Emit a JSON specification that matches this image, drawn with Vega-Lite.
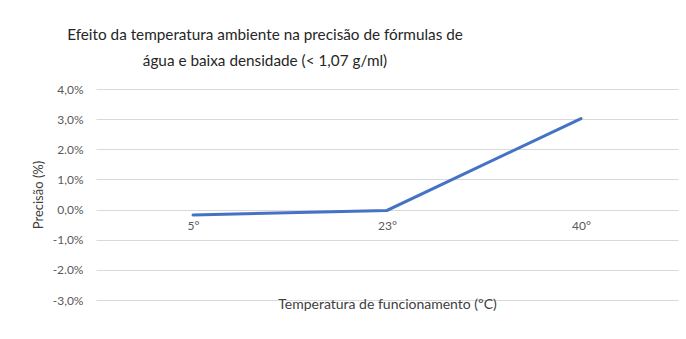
{
  "$schema": "https://vega.github.io/schema/vega-lite/v6.json",
  "width": 582,
  "height": 211,
  "autosize": {"type": "none"},
  "padding": {"left": 96, "top": 89, "right": 8, "bottom": 39},
  "background": "white",
  "title": {
    "text": ["Efeito da temperatura ambiente na precisão de fórmulas de", "água e baixa densidade (< 1,07 g/ml)"],
    "font": "Lato",
    "fontSize": 15.3,
    "fontWeight": "normal",
    "color": "#262626",
    "lineHeight": 26,
    "anchor": "middle",
    "dx": -122,
    "offset": 14
  },
  "data": {
    "values": [
      {"temperatura": "5°", "precisao": -0.18},
      {"temperatura": "23°", "precisao": -0.03},
      {"temperatura": "40°", "precisao": 3.02}
    ]
  },
  "mark": {"type": "line", "color": "#4472C4", "strokeWidth": 3, "strokeCap": "round"},
  "encoding": {
    "x": {
      "field": "temperatura",
      "type": "nominal",
      "sort": null,
      "scale": {"paddingInner": 0, "paddingOuter": 0.5},
      "axis": {
        "title": "Temperatura de funcionamento (ºC)",
        "orient": "bottom",
        "offset": -91,
        "domain": false,
        "ticks": false,
        "grid": false,
        "labelAngle": 0,
        "labelPadding": 11,
        "labelFont": "Lato",
        "labelFontSize": 12,
        "labelColor": "#595959",
        "titleFont": "Lato",
        "titleFontSize": 14,
        "titleFontWeight": "normal",
        "titleColor": "#404040",
        "titleY": 88
      }
    },
    "y": {
      "field": "precisao",
      "type": "quantitative",
      "scale": {"domain": [-3, 4], "nice": false, "zero": false},
      "axis": {
        "title": "Precisão (%)",
        "values": [-3, -2, -1, 0, 1, 2, 3, 4],
        "labelExpr": "abs(datum.value) == 2 ? (datum.value < 0 ? '-2.0%' : '2.0%') : (datum.value < 0 ? '-' : '') + replace(format(abs(datum.value), '.1f'), '.', ',') + '%'",
        "domain": false,
        "ticks": false,
        "grid": true,
        "gridColor": "#d9d9d9",
        "gridWidth": 1,
        "labelPadding": 13,
        "labelFont": "Lato",
        "labelFontSize": 12,
        "labelColor": "#595959",
        "titleFont": "Lato",
        "titleFontSize": 13,
        "titleFontWeight": "normal",
        "titleColor": "#404040",
        "titlePadding": 7
      }
    }
  },
  "config": {
    "view": {"stroke": null}
  }
}
